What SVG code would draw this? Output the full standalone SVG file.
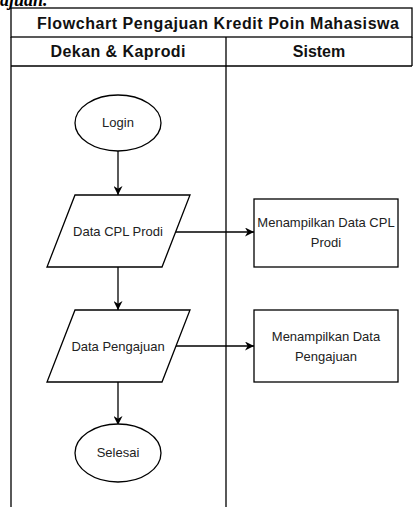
<svg xmlns="http://www.w3.org/2000/svg" width="415" height="507" viewBox="0 0 415 507">
<defs>
<marker id="arr" viewBox="0 0 10 10" refX="10" refY="5" markerWidth="9" markerHeight="9" markerUnits="userSpaceOnUse" orient="auto">
<path d="M0,0 L10,5 L0,10 L3,5 Z" fill="#000"/>
</marker>
</defs>
<style>
.ln{stroke:#000;stroke-width:1.3;fill:none}
.sh{stroke:#000;stroke-width:1.3;fill:#fff}
.t{font-family:"Liberation Sans",Arial,sans-serif;font-size:13px;fill:#222;text-anchor:middle}
.h{font-family:"Liberation Sans",Arial,sans-serif;font-size:16px;font-weight:bold;fill:#111;text-anchor:middle}
.frag{font-family:"Liberation Serif","Times New Roman",serif;font-size:18px;font-weight:bold;font-style:italic;fill:#000}
</style>
<rect width="415" height="507" fill="#fff"/>
<text class="frag" x="0" y="6">ajuan.</text>
<g id="pool">
<rect class="ln" x="11" y="8" width="401" height="29" fill="#fff"/>
<text class="h" x="218" y="29" textLength="362" lengthAdjust="spacing">Flowchart Pengajuan Kredit Poin Mahasiswa</text>
<path class="ln" d="M11,37 V507 M412,37 V66 M11,66 H412 M226,37 V507"/>
<text class="h" x="118" y="57" textLength="135" lengthAdjust="spacing">Dekan &amp; Kaprodi</text>
<text class="h" x="319" y="57">Sistem</text>
</g>
<g id="connectors">
<path class="ln" d="M118,151 V195" marker-end="url(#arr)"/>
<path class="ln" d="M118,267 V310" marker-end="url(#arr)"/>
<path class="ln" d="M118,382 V425" marker-end="url(#arr)"/>
<path class="ln" d="M176,232 H254" marker-end="url(#arr)"/>
<path class="ln" d="M176,346 H254" marker-end="url(#arr)"/>
</g>
<g id="login">
<ellipse class="sh" cx="118" cy="123" rx="43" ry="28"/>
<text class="t" x="118" y="127">Login</text>
</g>
<g id="data-cpl">
<polygon class="sh" points="75,195 190,195 162,267 47,267"/>
<text class="t" x="118" y="236">Data CPL Prodi</text>
</g>
<g id="data-pengajuan">
<polygon class="sh" points="75,310 190,310 162,382 47,382"/>
<text class="t" x="118" y="351">Data Pengajuan</text>
</g>
<g id="selesai">
<ellipse class="sh" cx="118" cy="453" rx="43" ry="29"/>
<text class="t" x="118" y="457">Selesai</text>
</g>
<g id="tampil-cpl">
<rect class="sh" x="254" y="199" width="144" height="68"/>
<text class="t" x="326" y="227">Menampilkan Data CPL</text>
<text class="t" x="326" y="247">Prodi</text>
</g>
<g id="tampil-pengajuan">
<rect class="sh" x="254" y="310" width="144" height="72"/>
<text class="t" x="326" y="341">Menampilkan Data</text>
<text class="t" x="326" y="361">Pengajuan</text>
</g>
</svg>
